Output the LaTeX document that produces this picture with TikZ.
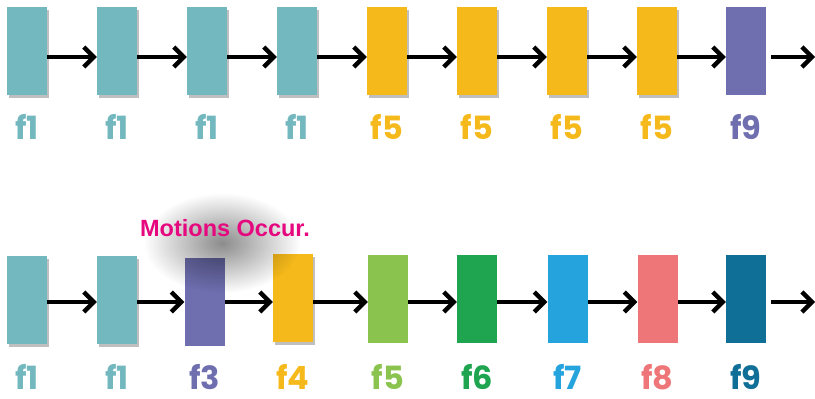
\documentclass[tikz,border=0pt]{standalone}
\usepackage{fontspec}
\setmainfont{Poppins}
\newfontfamily\arialfont{Liberation Sans}
\usetikzlibrary{arrows.meta,shadows,fadings}
\definecolor{cteal}{HTML}{72B8BE}
\definecolor{cyel}{HTML}{F5B91B}
\definecolor{cpur}{HTML}{6F6FB0}
\definecolor{clgr}{HTML}{8BC34F}
\definecolor{cgrn}{HTML}{1FA550}
\definecolor{csky}{HTML}{24A3DC}
\definecolor{csal}{HTML}{EE7679}
\definecolor{cdtl}{HTML}{0F6F96}
\definecolor{cmag}{HTML}{E5087E}
\tikzfading[name=fuzzy, inner color=transparent!0, outer color=transparent!100]
\begin{document}
\begin{tikzpicture}[x=1pt,y=-1pt,
  frame/.style={minimum width=40pt,minimum height=88pt,inner sep=0pt,fill=#1},
  shd/.style={drop shadow={shadow xshift=2pt,shadow yshift=-3pt,opacity=.25,fill=black}},
  lab/.style={text=#1,font=\bfseries\fontsize{32}{32}\selectfont,inner sep=0pt,anchor=base},
  arr/.style={line width=4.3pt,-{Straight Barb[length=10pt,width=20pt]}}]
\useasboundingbox (0,0) rectangle (815,399);
% top row
\node[frame=cteal,shd] (a1) at (27,50.5) {};
\node[frame=cteal,shd] (a2) at (117,50.5) {};
\node[frame=cteal,shd] (a3) at (207,50.5) {};
\node[frame=cteal,shd] (a4) at (297,50.5) {};
\node[frame=cyel,shd] (a5) at (387,50.5) {};
\node[frame=cyel,shd] (a6) at (477,50.5) {};
\node[frame=cyel,shd] (a7) at (567,50.5) {};
\node[frame=cyel,shd] (a8) at (657,50.5) {};
\node[frame=cpur] (a9) at (746,50.5) {};
\coordinate (aend) at (815,57);
\foreach \i/\j in {1/2,2/3,3/4,4/5,5/6,6/7,7/8,8/9}
  \draw[arr] ([yshift=-6.5pt]a\i.east) -- ([yshift=-6.5pt]a\j.west);
\draw[arr] ([xshift=5pt,yshift=-6.5pt]a9.east) -- (aend);
\foreach \n/\t/\c in {a1/f1/cteal,a2/f1/cteal,a3/f1/cteal,a4/f1/cteal,a5/f5/cyel,a6/f5/cyel,a7/f5/cyel,a8/f5/cyel,a9/f9/cpur}
  \node[lab=\c] (l\n) at ([yshift=-45pt]\n.south) {\t};
% bottom row
\node[frame=cteal,shd] (b1) at (27,300) {};
\node[frame=cteal,shd] (b2) at (117,300) {};
\node[frame=cpur] (b3) at (204.5,302) {};
\node[frame=cyel,shd] (b4) at (293,298) {};
\node[frame=clgr] (b5) at (388,299) {};
\node[frame=cgrn] (b6) at (477,299) {};
\node[frame=csky] (b7) at (567.5,299) {};
\node[frame=csal] (b8) at (657.5,299) {};
\node[frame=cdtl] (b9) at (746,299) {};
\coordinate (bend) at (815,302);
\foreach \i/\j in {1/2,2/3,3/4,4/5,5/6,6/7,7/8,8/9}
  \draw[arr] (b\i.east |- 0,302) -- (b\j.west |- 0,302);
\draw[arr] ([xshift=5pt]b9.east |- 0,302) -- (bend);
\fill[black,opacity=.45,path fading=fuzzy] (222,243) ellipse (78pt and 50pt);
\node[text=cmag,font=\arialfont\bfseries\fontsize{23.5}{23.5}\selectfont,inner sep=0pt] (mo) at (225,228) {Motions Occur.};
\foreach \n/\t/\c in {b1/f1/cteal,b2/f1/cteal,b3/f3/cpur,b4/f4/cyel,b5/f5/clgr,b6/f6/cgrn,b7/f7/csky,b8/f8/csal,b9/f9/cdtl}
  \node[lab=\c] (l\n) at (\n.center |- 0,389) {\t};
\end{tikzpicture}
\end{document}
